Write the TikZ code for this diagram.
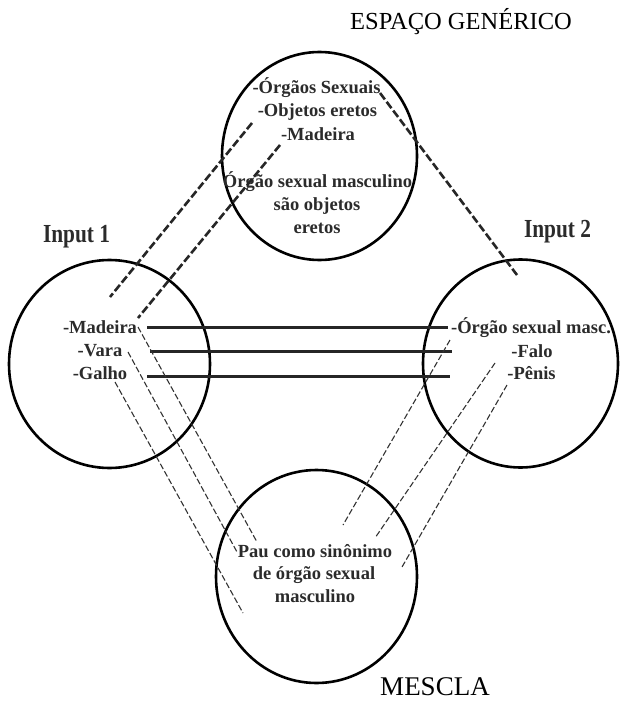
\documentclass[tikz,border=0pt]{standalone}
\usepackage{fontspec}
\setmainfont{Liberation Serif}
\usetikzlibrary{shapes.geometric}
\definecolor{ink}{HTML}{2B2B2B}
\tikzset{
  ring/.style={ellipse, draw=black, line width=2.6pt, inner sep=0pt},
  body/.style={font=\fontsize{18.5}{22}\selectfont\bfseries, text=ink, anchor=base, inner sep=0pt},
  heading/.style={font=\fontsize{24.5}{28}\selectfont, text=black, anchor=base, inner sep=0pt},
  inputlbl/.style={font=\fontsize{26}{30}\selectfont\bfseries, text=ink, anchor=base, inner sep=0pt},
  link/.style={draw=black!85, line width=3pt},
  gendash/.style={draw=black!85, line width=2.6pt, dash pattern=on 8pt off 3pt},
  thindash/.style={draw=black!80, line width=1.1pt, dash pattern=on 6pt off 2.5pt},
}
\begin{document}
\begin{tikzpicture}[x=1pt, y=-1pt]
\useasboundingbox (0,0) rectangle (619,701);
\fill[white] (0,0) rectangle (619,701);

% the four mental spaces
\node[ring, minimum width=195pt, minimum height=208pt] (gen) at (319.5,156) {};
\node[ring, minimum width=201pt, minimum height=208pt] (in1) at (109.5,364) {};
\node[ring, minimum width=195pt, minimum height=208pt] (in2) at (520.5,363.5) {};
\node[ring, minimum width=201pt, minimum height=213pt] (blend) at (316.5,576.5) {};

% headings
\node[heading] (tgen) at (461,30) {ESPAÇO GENÉRICO};
\node[heading, font=\fontsize{27}{30}\selectfont] (tblend) at (435,695) {MESCLA};
\node[inputlbl] (tin1) at (76.5,242) {\scalebox{0.82}[1]{Input 1}};
\node[inputlbl] (tin2) at (557.5,237) {\scalebox{0.82}[1]{Input 2}};

% generic space contents
\node[body] (g1) at (316.5,93) {-Órgãos Sexuais};
\node[body] (g2) at (317.5,116.5) {-Objetos eretos};
\node[body] (g3) at (318,140) {-Madeira};
\node[body] (g4) at (317.5,187.5) {Órgão sexual masculino};
\node[body] (g5) at (317,210.5) {são objetos};
\node[body] (g6) at (317,233.5) {eretos};

% input 1 contents
\node[body] (m1) at (100,333) {-Madeira};
\node[body] (m2) at (100,356) {-Vara};
\node[body] (m3) at (100,379) {-Galho};

% input 2 contents
\node[body] (f1) at (531,333) {-Órgão sexual masc.};
\node[body] (f2) at (532,357) {-Falo};
\node[body] (f3) at (531.5,379) {-Pênis};

% blend contents
\node[body] (b1) at (315,557) {Pau como sinônimo};
\node[body] (b2) at (314,579.5) {de órgão sexual};
\node[body] (b3) at (315,602) {masculino};

% end points of the mappings
\coordinate (ga1) at (252,123);  \coordinate (ia1) at (110,297);
\coordinate (ga2) at (280,145);  \coordinate (ia2) at (138,318);
\coordinate (gb1) at (380,93);   \coordinate (ib1) at (517,275);

\coordinate (h1a) at (147,327);  \coordinate (h1b) at (448,327);
\coordinate (h2a) at (150,351);  \coordinate (h2b) at (452,351);
\coordinate (h3a) at (147,376);  \coordinate (h3b) at (450,376);

\coordinate (l1a) at (138,327);  \coordinate (l1b) at (257,542);
\coordinate (l2a) at (128,352);  \coordinate (l2b) at (237,552);
\coordinate (l3a) at (115,382);  \coordinate (l3b) at (243,613);

\coordinate (r1a) at (450,340);  \coordinate (r1b) at (343,525);
\coordinate (r2a) at (495,363);  \coordinate (r2b) at (375,538);
\coordinate (r3a) at (507,385);  \coordinate (r3b) at (402,567);

% generic space to the inputs
\draw[gendash] (ga1) -- (ia1);
\draw[gendash] (ga2) -- (ia2);
\draw[gendash] (gb1) -- (ib1);

% cross-space counterparts
\draw[link] (h1a) -- (h1b);
\draw[link] (h2a) -- (h2b);
\draw[link] (h3a) -- (h3b);

% projections into the blend
\draw[thindash] (l1a) -- (l1b);
\draw[thindash] (l2a) -- (l2b);
\draw[thindash] (l3a) -- (l3b);
\draw[thindash] (r1a) -- (r1b);
\draw[thindash] (r2a) -- (r2b);
\draw[thindash] (r3a) -- (r3b);
\end{tikzpicture}
\end{document}
